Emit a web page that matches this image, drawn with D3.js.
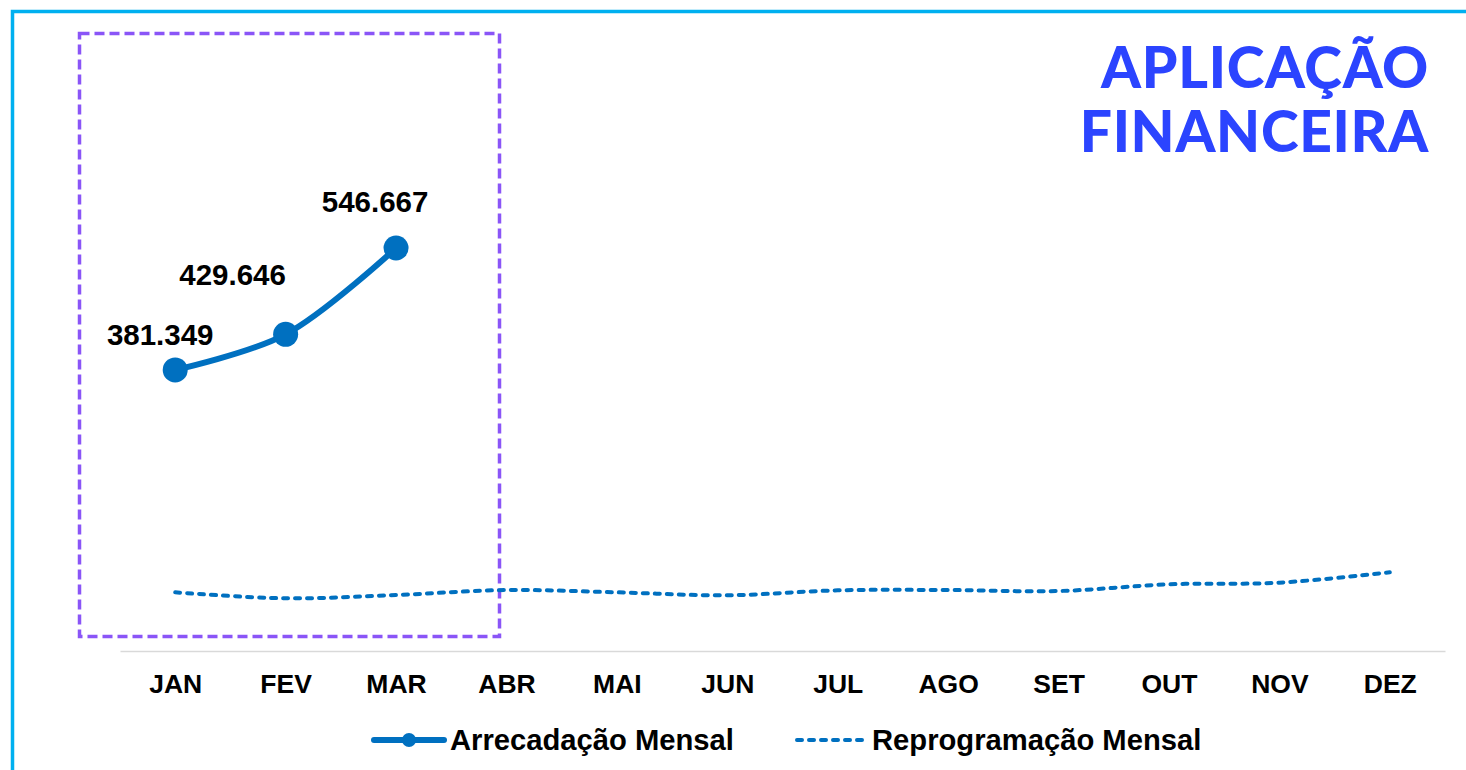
<!DOCTYPE html>
<html>
<head>
<meta charset="utf-8">
<script src="https://cdn.jsdelivr.net/npm/d3@7"></script>
<style>
  html, body { margin: 0; padding: 0; background: #fff; }
  svg { display: block; }
  .lbl { font-family: "Liberation Sans", Arial, sans-serif; font-weight: bold; fill: #000; }
</style>
</head>
<body>
<div id="chart"></div>
<script>
"use strict";

const months = ["JAN", "FEV", "MAR", "ABR", "MAI", "JUN", "JUL", "AGO", "SET", "OUT", "NOV", "DEZ"];
const arrecadacao = [381.349, 429.646, 546.667];
const arrecadacaoLabels = ["381.349", "429.646", "546.667"];
const reprogramacao = [79.6, 71.5, 76, 82.7, 79.6, 75.6, 82.3, 82.7, 81.4, 90.5, 92.7, 106.8];
const titleLines = ["APLICAÇÃO", "FINANCEIRA"];
const legendNames = ["Arrecadação Mensal", "Reprogramação Mensal"];
// manual label offsets (like excel's dragged labels)
const labelOffsets = [[-15, -25], [-53, -49], [-21, -36]];

function DrawChart() {
  const width = 1466,
    height = 770,
    blue = "#0070C0";

  const svg = d3
    .select("#chart")
    .append("svg")
    .attr("width", width)
    .attr("height", height);

  // outer cyan frame (top + left only visible)
  svg.append("path")
    .attr("d", "M12.5,770V11.5H1466")
    .attr("fill", "none")
    .attr("stroke", "#00B0F0")
    .attr("stroke-width", 3.5);

  const x = d3.scalePoint().domain(months).range([120, 1445]).padding(0.5);
  const y = d3.scaleLinear().domain([0, 700]).range([651, 135]);

  // x axis
  const xAxis = d3.axisBottom(x).tickSize(0).tickSizeOuter(0).tickPadding(23);
  const gx = svg.append("g")
    .attr("transform", "translate(0," + y(0) + ")")
    .call(xAxis);
  gx.select(".domain").attr("stroke", "#D9D9D9").attr("stroke-width", 1.5);
  gx.selectAll("text")
    .attr("class", "lbl")
    .style("font-size", "26.5px")
    .attr("fill", "#000");

  // purple highlight box
  svg.append("rect")
    .attr("x", 79.5)
    .attr("y", 33.5)
    .attr("width", 420)
    .attr("height", 603)
    .attr("fill", "none")
    .attr("stroke", "#8A55F7")
    .attr("stroke-width", 3.5)
    .attr("stroke-dasharray", "10,5");

  const line = d3.line()
    .x((d, i) => x(months[i]))
    .y((d) => y(d))
    .curve(d3.curveCatmullRom.alpha(0.5));

  // reprogramacao dashed
  svg.append("path")
    .datum(reprogramacao)
    .attr("d", line)
    .attr("fill", "none")
    .attr("stroke", blue)
    .attr("stroke-width", 4)
    .attr("stroke-linecap", "round")
    .attr("stroke-dasharray", "5,7");

  // arrecadacao
  svg.append("path")
    .datum(arrecadacao)
    .attr("d", line)
    .attr("fill", "none")
    .attr("stroke", blue)
    .attr("stroke-width", 6)
    .attr("stroke-linecap", "round");

  svg.selectAll(".dot")
    .data(arrecadacao)
    .enter()
    .append("circle")
    .attr("class", "dot")
    .attr("cx", (d, i) => x(months[i]))
    .attr("cy", (d) => y(d))
    .attr("r", 12.5)
    .attr("fill", blue);

  svg.selectAll(".val")
    .data(arrecadacao)
    .enter()
    .append("text")
    .attr("class", "lbl val")
    .attr("x", (d, i) => x(months[i]) + labelOffsets[i][0])
    .attr("y", (d, i) => y(d) + labelOffsets[i][1])
    .attr("text-anchor", "middle")
    .style("font-size", "29.5px")
    .text((d, i) => arrecadacaoLabels[i]);

  // title
  svg.append("g")
    .selectAll("text")
    .data(titleLines)
    .enter()
    .append("text")
    .attr("x", 1429)
    .attr("y", (d, i) => 88 + i * 64)
    .attr("text-anchor", "end")
    .style("font-family", "Lato, sans-serif")
    .style("font-weight", "900")
    .style("font-size", "57px")
    .style("letter-spacing", "0.7px")
    .attr("fill", "#2B44FF")
    .text((d) => d);

  // legend
  const leg = svg.append("g");
  leg.append("line")
    .attr("x1", 374).attr("x2", 444)
    .attr("y1", 740).attr("y2", 740)
    .attr("stroke", blue).attr("stroke-width", 6).attr("stroke-linecap", "round");
  leg.append("circle")
    .attr("cx", 409).attr("cy", 740).attr("r", 7).attr("fill", blue);
  leg.append("text")
    .attr("class", "lbl")
    .attr("x", 450).attr("y", 750)
    .style("font-size", "29.2px")
    .text(legendNames[0]);

  leg.append("line")
    .attr("x1", 797).attr("x2", 862)
    .attr("y1", 740).attr("y2", 740)
    .attr("stroke", blue).attr("stroke-width", 4)
    .attr("stroke-linecap", "round")
    .attr("stroke-dasharray", "5,7");
  leg.append("text")
    .attr("class", "lbl")
    .attr("x", 872).attr("y", 750)
    .style("font-size", "29.2px")
    .text(legendNames[1]);
}

DrawChart();
</script>
</body>
</html>
